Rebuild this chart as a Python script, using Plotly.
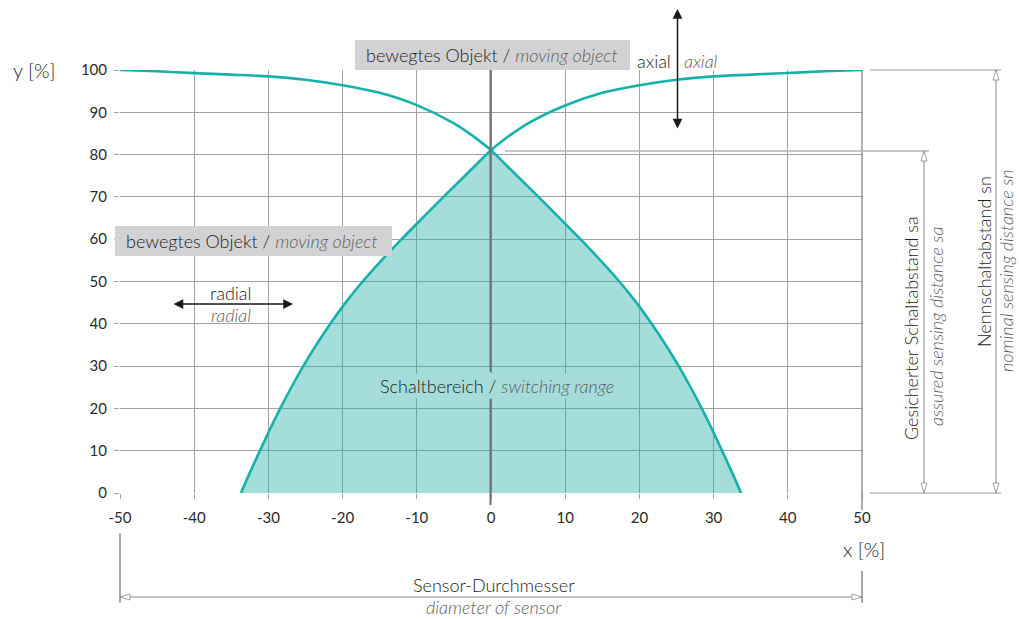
import plotly.graph_objects as go

# ---------------- data ----------------
# upper curves (moving object characteristic), left branch and right branch
top_left_x = [-50, -45, -40, -35, -30, -25, -20, -15, -10, -5, -2.5, 0]
top_left_y = [100, 99.7, 99.25, 98.9, 98.5, 97.7, 96.4, 94.6, 91.7, 87.4, 84.5, 81.1]
top_right_x = [0, 2.5, 5, 10, 15, 20, 25, 30, 35, 40, 45, 50]
top_right_y = [81.1, 84.5, 87.4, 91.6, 94.6, 96.4, 97.7, 98.5, 98.9, 99.3, 99.7, 100]

# switching range (filled), left and right boundary
range_y_up = [0, 5, 10, 15, 20, 25, 30, 35, 40, 45, 50, 55, 60, 65, 70, 75, 81.1]
range_left_x = [-33.7, -32.45, -31.15, -29.8, -28.4, -26.9, -25.3, -23.55, -21.65,
                -19.6, -17.3, -14.75, -12.05, -9.25, -6.4, -3.5, 0]
range_right_x = [33.7, 32.45, 31.15, 29.8, 28.4, 26.9, 25.3, 23.55, 21.65,
                 19.6, 17.3, 14.75, 12.05, 9.25, 6.4, 3.5, 0]

x_ticks = [-50, -40, -30, -20, -10, 0, 10, 20, 30, 40, 50]
y_ticks = [0, 10, 20, 30, 40, 50, 60, 70, 80, 90, 100]

# ---------------- layout helpers ----------------
W, H = 1019, 619
L, R, T, B = 120, 862, 70, 493


def px(xp):
    return (xp - L) / (R - L)


def py(yp):
    return (B - yp) / (B - T)


TEAL = "#14b2aa"
GRID = "#a3a3a3"
DARK = "#1c1c1c"
GREY_TXT = "#5e5e5e"
FONT = "Lato, 'Open Sans', sans-serif"
FILL = "rgba(30,170,165,0.40)"

fig = go.Figure()

for xs, ys in [(range_left_x, range_y_up), (range_right_x, range_y_up)]:
    fig.add_trace(go.Scatter(
        x=xs, y=ys, mode="lines", fill="tozeroy", fillcolor=FILL,
        line=dict(color=TEAL, width=2.6, shape="spline", smoothing=1),
        hoverinfo="skip", showlegend=False))
for xs, ys in [(top_left_x, top_left_y), (top_right_x, top_right_y)]:
    fig.add_trace(go.Scatter(
        x=xs, y=ys, mode="lines",
        line=dict(color=TEAL, width=2.6, shape="spline", smoothing=0.8),
        hoverinfo="skip", showlegend=False))

shapes = []


def pline(x0, y0, x1, y1, color="#8a8a8a", width=1, layer="above"):
    shapes.append(dict(type="line", xref="paper", yref="paper",
                       x0=px(x0), y0=py(y0), x1=px(x1), y1=py(y1),
                       line=dict(color=color, width=width), layer=layer))


def hollow(tipx, tipy, direction, length=10, half=3):
    if direction == "up":
        pts = [(tipx, tipy), (tipx - half, tipy + length), (tipx + half, tipy + length)]
    elif direction == "down":
        pts = [(tipx, tipy), (tipx - half, tipy - length), (tipx + half, tipy - length)]
    elif direction == "left":
        pts = [(tipx, tipy), (tipx + length, tipy - half), (tipx + length, tipy + half)]
    else:
        pts = [(tipx, tipy), (tipx - length, tipy - half), (tipx - length, tipy + half)]
    path = "M " + " L ".join(f"{px(a):.5f},{py(b):.5f}" for a, b in pts) + " Z"
    shapes.append(dict(type="path", xref="paper", yref="paper", path=path,
                       fillcolor="white", line=dict(color="#8a8a8a", width=0.8),
                       layer="above"))


# plot edge at x=50 and centre line at x=0
pline(862, 70, 862, 510, color="#7a7a7a", width=1.2)
pline(490.5, 70, 490.5, 372, color="#6f6f6f", width=2)
pline(490.5, 399, 490.5, 505, color="#6f6f6f", width=2)

# right-hand dimension lines
pline(870, 70, 1001, 70, color="#9a9a9a", width=1)
pline(870, 493, 1001, 493, color="#9a9a9a", width=1)
pline(505, 151, 929, 151, color="#b5b5b5", width=1.6)
pline(924, 151, 924, 493, color="#8a8a8a", width=1)
hollow(924, 151, "up")
hollow(924, 493, "down")
pline(996, 70, 996, 493, color="#8a8a8a", width=1)
hollow(996, 70, "up")
hollow(996, 493, "down")

# bottom dimension
pline(120, 533, 120, 603, color="#555555", width=1)
pline(862, 571, 862, 603, color="#555555", width=1)
pline(120, 597, 862, 597, color="#8a8a8a", width=1)
hollow(120, 597, "left")
hollow(862, 597, "right")

# label boxes
shapes.append(dict(type="rect", xref="paper", yref="paper",
                   x0=px(355), x1=px(630), y0=py(70), y1=py(40),
                   fillcolor="#d2d2d4", line=dict(width=0), layer="above"))
shapes.append(dict(type="rect", xref="paper", yref="paper",
                   x0=px(115), x1=px(392), y0=py(256), y1=py(226),
                   fillcolor="#d2d2d4", line=dict(width=0), layer="above"))

ann = []


def txt(x, y, text, size=18, xanchor="left", angle=0, color=DARK, bg=None):
    d = dict(xref="paper", yref="paper", x=px(x), y=py(y), text=text,
             showarrow=False, xanchor=xanchor, yanchor="middle", textangle=angle,
             font=dict(family=FONT, size=size, color=color, weight=300))
    if bg:
        d.update(bgcolor=bg, borderpad=1)
    ann.append(d)


def it(s):
    return f'<i><span style="color:{GREY_TXT}">{s}</span></i>'


txt(364, 55, "bewegtes Objekt / " + it("moving object"))
txt(124, 241, "bewegtes Objekt / " + it("moving object"))
txt(673, 61, "axial", xanchor="right")
txt(682, 61, it("axial"))
txt(231, 293, "radial", xanchor="center")
txt(231, 315, it("radial"), xanchor="center")
txt(497, 386, "Schaltbereich / " + it("switching range"), xanchor="center", bg="#a5dcda")
txt(494, 585, "Sensor-Durchmesser", xanchor="center")
txt(494, 607, it("diameter of sensor"), xanchor="center")
txt(34, 70, "y [%]", size=20, xanchor="center")
txt(864, 549, "x [%]", size=20, xanchor="center")
txt(911, 328, "Gesicherter Schaltabstand sa", angle=-90, xanchor="center")
txt(936, 327, it("assured sensing distance sa"), angle=-90, xanchor="center")
txt(984, 262, "Nennschaltabstand sn", angle=-90, xanchor="center")
txt(1006, 271, it("nominal sensing distance sn"), angle=-90, xanchor="center")

# arrows
ann.append(dict(xref="paper", yref="paper", x=px(677.5), y=py(9), ax=0, ay=121,
                axref="pixel", ayref="pixel", text="", showarrow=True,
                arrowside="end+start", arrowhead=2, arrowsize=1.3, arrowwidth=1.5,
                arrowcolor="#1a1a1a"))
ann.append(dict(xref="paper", yref="paper", x=px(293), y=py(304), ax=-121, ay=0,
                axref="pixel", ayref="pixel", text="", showarrow=True,
                arrowside="end+start", arrowhead=2, arrowsize=1.3, arrowwidth=1.5,
                arrowcolor="#1a1a1a"))

fig.update_layout(
    width=W, height=H, autosize=False,
    margin=dict(l=L, r=W - R, t=T, b=H - B, pad=0),
    plot_bgcolor="white", paper_bgcolor="white",
    shapes=shapes, annotations=ann, showlegend=False,
    font=dict(family=FONT, size=15, color=DARK),
    xaxis=dict(range=[-50, 50], tickvals=x_ticks, ticktext=[str(v) for v in x_ticks],
               showgrid=True, gridcolor=GRID, gridwidth=1, zeroline=False,
               showline=False, ticks="outside", ticklen=5, tickcolor=GRID,
               ticklabelstandoff=6, tickfont=dict(family=FONT, size=15, color="#2a2a2a"),
               fixedrange=True),
    yaxis=dict(range=[0, 100], tickvals=y_ticks, ticktext=[str(v) for v in y_ticks],
               showgrid=True, gridcolor=GRID, gridwidth=1, zeroline=False,
               showline=False, ticks="outside", ticklen=5, tickcolor=GRID,
               ticklabelstandoff=4, tickfont=dict(family=FONT, size=15, color="#2a2a2a"),
               fixedrange=True),
)

fig.write_html("out.html", config={"displayModeBar": False},
               post_script="document.body.style.margin='0';")
